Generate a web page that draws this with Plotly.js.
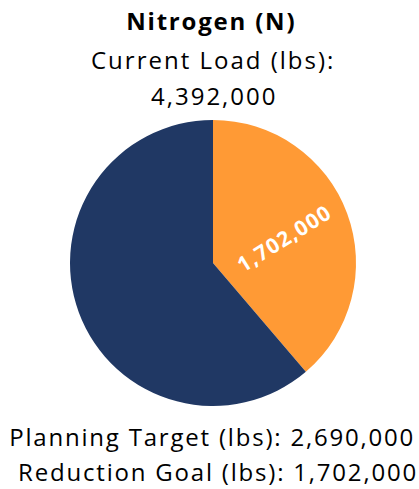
<!DOCTYPE html>
<html>
<head>
<meta charset="utf-8">
<script src="https://cdn.plot.ly/plotly-3.0.1.min.js"></script>
<style>html,body{margin:0;padding:0;background:#fff;}#chart{width:419px;height:489px;}</style>
</head>
<body>
<div id="chart"></div>
<script>
const labels = ["Reduction Goal", "Planning Target"];
const values = [1702000, 2690000];
const colors = ["#FF9A35", "#203864"];
const currentLoad = 4392000;
const fmt = v => v.toLocaleString("en-US");
const FONT = "'Open Sans', Lato, sans-serif";

const data = [{
  type: "pie",
  labels: labels,
  values: values,
  sort: false,
  direction: "clockwise",
  rotation: 0,
  marker: {colors: colors, line: {width: 0}},
  textinfo: "none",
  hoverinfo: "label+value",
  domain: {x: [70/419, 356/419], y: [1 - 406/489, 1 - 120/489]},
  showlegend: false
}];

function ann(text, xpx, ypx, size, extra) {
  return Object.assign({text: text, x: xpx/419, y: 1 - ypx/489, xref: "paper", yref: "paper",
    xanchor: "center", yanchor: "middle", showarrow: false, font: {size: size, family: FONT, color: "#000"}}, extra || {});
}

const spacing = [1.8, 2, 2, 1.2, 1.8, 1.8];

const layout = {
  width: 419, height: 489,
  margin: {l: 0, r: 0, t: 0, b: 0},
  paper_bgcolor: "#fff",
  font: {family: FONT, color: "#000"},
  annotations: [
    ann("<b>Nitrogen (N)</b>", 212, 21, 24),
    ann("Current Load (lbs):", 213, 59, 24),
    ann(fmt(currentLoad), 214, 96, 24),
    ann("<b>" + fmt(values[0]) + "</b>", 284, 238, 21, {textangle: -32, font: {size: 21, family: FONT, color: "#fff"}}),
    ann("Planning Target (lbs): " + fmt(values[1]), 212, 436, 24),
    ann("Reduction Goal (lbs): " + fmt(values[0]), 218, 471, 24)
  ]
};
Plotly.newPlot("chart", data, layout, {displayModeBar: false, staticPlot: true}).then(gd => {
  gd.querySelectorAll(".annotation").forEach((g, i) => {
    const t = g.querySelector(".annotation-text");
    if (t && spacing[i] !== undefined) t.style.letterSpacing = spacing[i] + "px";
  });
});
</script>
</body>
</html>
